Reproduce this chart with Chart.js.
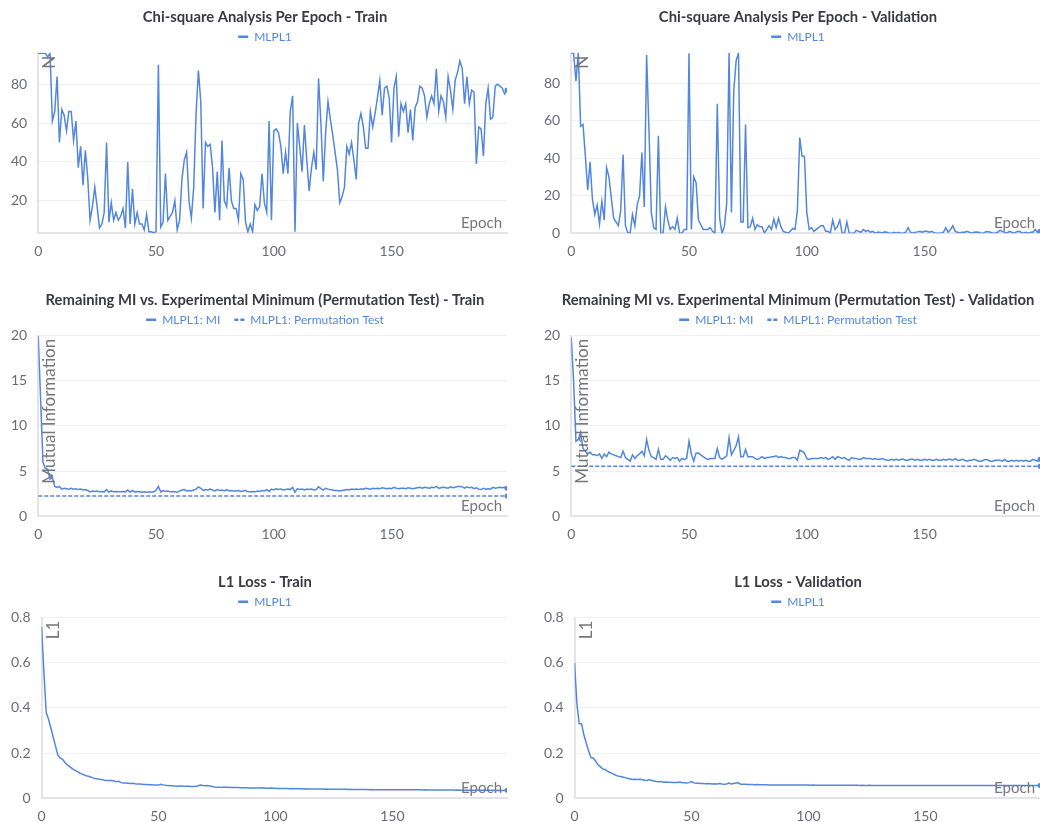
<!DOCTYPE html>
<html>
<head>
<meta charset="utf-8">
<script src="https://cdn.jsdelivr.net/npm/chart.js@4.4.0/dist/chart.umd.min.js"></script>
<style>
  html, body { margin: 0; padding: 0; background: #fff; width: 1040px; height: 822px; overflow: hidden; }
  .cell { position: absolute; width: 530px; height: 272px; }
  .cell canvas { display: block; }
</style>
</head>
<body>
<div class="cell" style="left:0;top:0"><canvas id="chiTrainChart" width="530" height="272"></canvas></div>
<div class="cell" style="left:533px;top:0"><canvas id="chiValChart" width="530" height="272"></canvas></div>
<div class="cell" style="left:0;top:283px"><canvas id="miTrainChart" width="530" height="272"></canvas></div>
<div class="cell" style="left:533px;top:283px"><canvas id="miValChart" width="530" height="272"></canvas></div>
<div class="cell" style="left:0;top:565px"><canvas id="l1TrainChart" width="530" height="272"></canvas></div>
<div class="cell" style="left:533px;top:565px"><canvas id="l1ValChart" width="530" height="272"></canvas></div>
<script>
const epochs = Array.from({ length: 200 }, (_, i) => i);
const epochTicks = [0, 50, 100, 150];

const chiTrain = [
  96, 96, 96, 96, 94, 96, 61, 66, 84, 50,
  67, 64, 56, 66, 66, 51, 61, 37, 48, 28,
  46, 32, 10, 17, 27, 17, 6, 8, 14, 50,
  9, 19, 10, 14, 10, 12, 16, 6, 40, 8,
  26, 8, 14, 8, 8, 5, 13, 4, 4, 3.5,
  4, 90, 6.5, 9, 34, 10, 12, 14, 20, 5,
  10, 31, 41, 45, 20, 11, 27, 65, 87, 71,
  16, 50, 48, 49, 37, 14, 35, 10, 51, 20,
  17, 37, 20, 16, 16, 10, 34, 31, 9, 4,
  8, 4, 18, 15, 17, 34, 19, 14, 61, 10,
  56, 57, 55, 48, 34, 45, 34, 66, 74, 4,
  60, 48, 35, 59, 41, 25, 37, 45, 36, 83,
  60, 30, 55, 71, 62, 54, 45, 36, 19, 22,
  27, 48, 44, 50, 41, 31, 60, 65, 58, 47,
  47, 66, 58, 65, 73, 82, 64, 78, 79, 73,
  50, 78, 84, 53, 70, 66, 70, 55, 67, 51,
  68, 71, 79, 78, 74, 63, 70, 74, 70, 88,
  66, 74, 71, 63, 84, 77, 67, 82, 86, 92,
  88, 70, 84, 70, 77, 76, 39, 58, 57, 43,
  70, 78, 62, 63, 79, 80, 79, 78, 75, 77
];

const chiVal = [
  96, 96, 81, 96, 57, 58, 41, 23, 38, 18,
  10, 15, 5, 17, 7, 35, 30, 19, 8, 6,
  4, 12, 42, 4, 0.3, 0, 10, 4, 15, 20,
  43, 14, 95, 55, 11, 3, 2, 52, 0, 0,
  14, 7, 2, 3.5, 2, 8, 0, 0, 2, 2,
  96, 2, 30, 27, 7, 4.5, 2, 2, 2, 3,
  1, 0, 69, 8, 0, 3.5, 16, 96, 11, 76,
  92, 96, 6, 6, 58, 3, 3.5, 8, 2, 4.5,
  3.5, 3.5, 0, 2, 4, 2, 7.5, 3, 8, 3.5,
  1, 0.5, 0, 1, 2.5, 2, 12, 51, 41, 41,
  11, 2, 3, 1, 2, 3, 4, 4, 1, 1,
  0, 7, 2, 3.5, 7, 0, 0, 6, 0, 0,
  0, 1.5, 1, 0.5, 2, 1, 1.5, 0.5, 1, 0,
  0.5, 0.5, 0, 0.7, 0.5, 0, 0, 0.5, 0, 0.5,
  0, 0, 0.5, 3, 0.5, 0, 0.5, 0.7, 1, 0.5,
  1, 1, 0.5, 1, 0.3, 0, 0, 0, 0.5, 3,
  0.5, 2, 4, 1, 0.5, 0.3, 0.5, 0.5, 1, 0.5,
  0, 0.5, 0.7, 0.5, 0, 0, 0.8, 0.8, 0.5, 0,
  0, 0.5, 1.5, 1, 0.5, 0, 1, 0.5, 0, 0.7,
  1, 0.5, 0, 0.5, 0, 0.5, 0.5, 2, 0.5, 1
];

const miTrain = [
  20, 13, 6, 5.3, 5.2, 4.1, 4.3, 3.3, 3.2, 3.3,
  3.0, 3.1, 3.05, 3.0, 3.1, 3.0, 3.05, 2.95, 3.0, 2.9,
  2.95, 2.85, 2.7, 2.8, 2.75, 2.8, 2.7, 2.75, 2.7, 2.95,
  2.65, 2.8, 2.7, 2.75, 2.7, 2.7, 2.75, 2.7, 2.9, 2.65,
  2.85, 2.7, 2.75, 2.7, 2.65, 2.7, 2.65, 2.7, 2.65, 2.7,
  2.85, 3.3, 2.7, 2.85, 2.75, 2.8, 2.7, 2.75, 2.7, 2.65,
  2.8, 2.9, 2.95, 2.8, 2.85, 2.8, 2.9, 3.0, 3.25, 3.1,
  2.85, 2.95, 2.9, 3.0, 2.9, 2.8, 2.95, 2.85, 2.9, 2.8,
  2.95, 2.8, 2.85, 2.8, 2.8, 2.85, 2.75, 2.8, 2.85, 2.7,
  2.7, 2.75, 2.7, 2.8, 2.75, 2.85, 2.8, 2.95, 2.75, 3.0,
  2.9, 3.05, 2.95, 3.0, 2.9, 2.95, 3.0, 2.95, 3.2, 2.65,
  3.05, 2.95, 3.0, 2.9, 3.0, 2.95, 3.0, 2.9, 2.95, 3.25,
  3.05, 2.9, 3.1, 3.0, 2.95, 2.9, 2.85, 2.85, 2.8, 2.85,
  2.9, 2.95, 2.9, 3.0, 2.95, 3.0, 2.95, 3.05, 3.0, 3.1,
  3.05, 3.0, 3.1, 3.05, 3.1, 3.05, 3.15, 3.1, 3.05, 3.1,
  3.05, 3.2, 3.1, 3.05, 3.1, 3.1, 3.05, 3.15, 3.1, 3.05,
  3.1, 3.15, 3.2, 3.1, 3.2, 3.15, 3.1, 3.2, 3.15, 3.3,
  3.1, 3.15, 3.2, 3.15, 3.1, 3.25, 3.15, 3.2, 3.3, 3.3,
  3.25, 3.1, 3.25, 3.15, 3.2, 3.05, 3.15, 3.0, 2.95, 3.1,
  3.0, 3.05, 3.0, 3.2, 3.1, 3.15, 3.2, 3.15, 3.2, 3.1
];

const miVal = [
  19.8, 15, 8.3, 8.5, 9.3, 7.5, 7.2, 6.9, 7.1, 6.8,
  6.8, 6.7, 6.9, 6.4, 6.9, 6.6, 7.1, 6.9, 6.8, 6.7,
  6.6, 6.5, 7.2, 6.5, 6.3, 6.1, 6.8, 6.4, 6.7, 6.9,
  7.2, 6.7, 8.5, 7.3, 6.6, 6.5, 6.3, 7.4, 6.3, 6.3,
  6.7, 6.5, 6.2, 6.5, 6.4, 6.5, 6.1, 6.4, 6.3, 6.4,
  8.3, 6.9, 6.1, 7.0, 7.0, 6.8, 6.6, 6.4, 6.3, 6.4,
  6.4, 6.4, 7.5, 6.5, 6.3, 6.5, 6.7, 8.7, 6.8, 7.3,
  7.8, 8.8, 6.6, 6.6, 7.4, 6.6, 6.6, 6.6, 6.4, 6.3,
  6.4, 6.6, 6.4, 6.5, 6.5, 6.6, 6.6, 6.7, 6.5, 6.6,
  6.5, 6.5, 6.4, 6.4, 6.5, 6.5, 6.2, 7.3, 7.2, 7.0,
  6.4, 6.3, 6.4, 6.4, 6.4, 6.4, 6.5, 6.4, 6.5, 6.3,
  6.4, 6.6, 6.3, 6.6, 6.5, 6.4, 6.5, 6.3, 6.2, 6.5,
  6.4, 6.4, 6.3, 6.3, 6.5, 6.4, 6.4, 6.4, 6.3, 6.4,
  6.3, 6.3, 6.4, 6.3, 6.2, 6.2, 6.3, 6.2, 6.3, 6.2,
  6.3, 6.3, 6.2, 6.2, 6.3, 6.3, 6.2, 6.3, 6.2, 6.2,
  6.3, 6.2, 6.3, 6.2, 6.2, 6.3, 6.2, 6.2, 6.3, 6.2,
  6.3, 6.3, 6.2, 6.4, 6.2, 6.2, 6.3, 6.2, 6.1, 6.2,
  6.2, 6.3, 6.2, 6.1, 6.1, 6.2, 6.3, 6.2, 6.1, 6.1,
  6.2, 6.2, 6.2, 6.1, 6.3, 6.1, 6.1, 6.2, 6.1, 6.2,
  6.1, 6.2, 6.1, 6.2, 6.1, 6.1, 6.3, 6.2, 6.1, 6.3
];

// permutation test baselines are flat, so only the two ends are stored
const permEpochs = [0, 199];
const permTrain = [2.25, 2.25];
const permVal = [5.55, 5.55];

const l1Train = [
  0.76, 0.56, 0.38, 0.35, 0.31, 0.27, 0.23, 0.19, 0.178, 0.172,
  0.158, 0.148, 0.14, 0.132, 0.126, 0.12, 0.114, 0.108, 0.104, 0.1,
  0.097, 0.094, 0.09, 0.087, 0.085, 0.084, 0.082, 0.08, 0.079, 0.079,
  0.078, 0.076, 0.073, 0.075, 0.069, 0.067, 0.067, 0.066, 0.065, 0.066,
  0.064, 0.063, 0.063, 0.062, 0.061, 0.061, 0.06, 0.06, 0.059, 0.058,
  0.058, 0.062, 0.059, 0.057, 0.056, 0.055, 0.055, 0.054, 0.053, 0.054,
  0.054, 0.053, 0.053, 0.053, 0.052, 0.052, 0.053, 0.055, 0.058, 0.056,
  0.055, 0.056, 0.054, 0.052, 0.05, 0.049, 0.049, 0.048, 0.048, 0.048,
  0.048, 0.047, 0.047, 0.047, 0.047, 0.046, 0.046, 0.046, 0.046, 0.045,
  0.045, 0.045, 0.045, 0.045, 0.046, 0.045, 0.044, 0.044, 0.045, 0.044,
  0.044, 0.043, 0.043, 0.043, 0.043, 0.043, 0.042, 0.043, 0.042, 0.042,
  0.042, 0.042, 0.041, 0.042, 0.041, 0.041, 0.041, 0.041, 0.041, 0.041,
  0.041, 0.04, 0.041, 0.04, 0.04, 0.04, 0.04, 0.04, 0.04, 0.04,
  0.04, 0.039, 0.04, 0.039, 0.039, 0.039, 0.039, 0.039, 0.039, 0.039,
  0.038, 0.039, 0.038, 0.038, 0.038, 0.038, 0.038, 0.038, 0.038, 0.038,
  0.038, 0.037, 0.038, 0.037, 0.037, 0.037, 0.037, 0.037, 0.037, 0.037,
  0.037, 0.037, 0.037, 0.036, 0.037, 0.036, 0.036, 0.036, 0.036, 0.036,
  0.036, 0.036, 0.036, 0.036, 0.036, 0.036, 0.036, 0.035, 0.036, 0.035,
  0.035, 0.035, 0.035, 0.035, 0.035, 0.035, 0.035, 0.035, 0.035, 0.035,
  0.035, 0.035, 0.035, 0.035, 0.034, 0.035, 0.034, 0.034, 0.034, 0.035
];

const l1Val = [
  0.6, 0.42, 0.33, 0.33, 0.28, 0.245, 0.21, 0.18, 0.178, 0.165,
  0.148, 0.14, 0.13, 0.127, 0.12, 0.115, 0.11, 0.105, 0.1, 0.097,
  0.095, 0.093, 0.09, 0.087, 0.085, 0.083, 0.084, 0.083, 0.084, 0.082,
  0.08, 0.079, 0.083, 0.078, 0.076, 0.074, 0.073, 0.074, 0.071, 0.072,
  0.071, 0.071, 0.07, 0.07, 0.07, 0.072, 0.069, 0.068, 0.067, 0.069,
  0.074, 0.068, 0.066, 0.066, 0.065, 0.065, 0.064, 0.065, 0.064, 0.063,
  0.064, 0.063, 0.065, 0.063, 0.062, 0.063, 0.067, 0.063, 0.065, 0.067,
  0.068, 0.062, 0.062, 0.062, 0.061, 0.061, 0.061, 0.06, 0.061, 0.06,
  0.06, 0.06, 0.06, 0.059, 0.059, 0.059, 0.059, 0.059, 0.059, 0.058,
  0.058, 0.058, 0.058, 0.058, 0.058, 0.058, 0.058, 0.058, 0.058, 0.058,
  0.058, 0.057, 0.058, 0.057, 0.057, 0.057, 0.057, 0.057, 0.057, 0.057,
  0.057, 0.057, 0.057, 0.057, 0.057, 0.057, 0.057, 0.057, 0.057, 0.057,
  0.057, 0.057, 0.056, 0.057, 0.056, 0.056, 0.057, 0.056, 0.056, 0.056,
  0.056, 0.056, 0.056, 0.056, 0.056, 0.056, 0.056, 0.056, 0.056, 0.056,
  0.056, 0.056, 0.056, 0.056, 0.056, 0.056, 0.056, 0.056, 0.056, 0.056,
  0.056, 0.056, 0.056, 0.056, 0.056, 0.056, 0.056, 0.056, 0.056, 0.056,
  0.056, 0.056, 0.056, 0.056, 0.056, 0.056, 0.056, 0.056, 0.056, 0.056,
  0.056, 0.056, 0.056, 0.056, 0.056, 0.056, 0.056, 0.056, 0.056, 0.056,
  0.056, 0.056, 0.056, 0.056, 0.056, 0.056, 0.056, 0.056, 0.056, 0.056,
  0.056, 0.056, 0.056, 0.056, 0.056, 0.056, 0.056, 0.056, 0.056, 0.056
];

const BLUE = '#5387dd';
const FONT = "Lato, 'Source Sans Pro', sans-serif";
const TICK_GREY = '#6b6b76';

// axis names sit inside the plot: y name rotated at top-left, x name bottom-right
const insideAxisTitles = {
  id: 'insideAxisTitles',
  afterDatasetsDraw(chart, args, opts) {
    const { ctx, chartArea: a } = chart;
    ctx.save();
    ctx.fillStyle = '#76767f';
    ctx.textAlign = 'right';
    ctx.font = '15px ' + FONT;
    ctx.textBaseline = 'alphabetic';
    ctx.fillText(opts.x, a.right - 5, a.bottom - 5);
    ctx.font = '17px ' + FONT;
    ctx.translate(a.left + 3, a.top + 3);
    ctx.rotate(-Math.PI / 2);
    ctx.textBaseline = 'top';
    ctx.fillText(opts.y, 0, 0);
    ctx.restore();
  }
};

function series(label, xs, ys, dashed) {
  const last = ys.length - 1;
  return {
    label,
    data: ys.map((y, i) => ({ x: xs[i], y })),
    borderColor: BLUE,
    backgroundColor: BLUE,
    borderWidth: 1.5,
    borderDash: dashed ? [4, 2] : [],
    pointRadius: ctx => (ctx.dataIndex === last ? 2.5 : 0),
    pointBorderWidth: 0,
    tension: 0,
    fill: false
  };
}

function yRange(min, max, step) {
  return {
    min, max,
    grid: { color: '#f0f0f3', drawTicks: false },
    border: { display: true, color: '#e3e3e8', width: 2 },
    ticks: {
      stepSize: step,
      padding: 11,
      color: TICK_GREY,
      font: { family: FONT, size: 14 },
      includeBounds: false
    }
  };
}

function makeChart(id, title, datasets, yScale, yName) {
  new Chart(document.getElementById(id), {
    type: 'line',
    data: { datasets },
    plugins: [insideAxisTitles],
    options: {
      responsive: false,
      animation: false,
      layout: { padding: { left: 0, right: 0, top: 0, bottom: 2 } },
      plugins: {
        title: {
          display: true,
          text: title,
          color: '#3a3a44',
          font: { family: FONT, size: 14.8, weight: 'bold' },
          padding: { top: 8, bottom: 0 }
        },
        legend: {
          labels: {
            color: BLUE,
            font: { family: FONT, size: 12 },
            usePointStyle: true,
            pointStyleWidth: 10,
            boxHeight: 12,
            padding: 5,
            generateLabels(chart) {
              const n = chart.data.datasets.length;
              return chart.data.datasets.map((ds, i) => ({
                // em space keeps a wider gap between neighbouring items
                text: i < n - 1 ? ds.label + '\u2003' : ds.label,
                datasetIndex: i,
                strokeStyle: BLUE,
                fillStyle: BLUE,
                fontColor: BLUE,
                lineWidth: 2.5,
                lineDash: ds.borderDash.length ? [4, 2] : [],
                pointStyle: 'line',
                hidden: false
              }));
            }
          }
        },
        tooltip: { enabled: false },
        insideAxisTitles: { x: 'Epoch', y: yName }
      },
      scales: {
        x: {
          type: 'linear',
          min: 0,
          max: 199,
          grid: { display: false, drawTicks: false },
          border: { display: true, color: '#e3e3e8', width: 2 },
          afterBuildTicks: scale => { scale.ticks = epochTicks.map(v => ({ value: v })); },
          ticks: {
            autoSkip: false,
            padding: 10,
            color: TICK_GREY,
            font: { family: FONT, size: 14 },
            maxRotation: 0
          }
        },
        y: yScale,
        // empty strip on the right so the plot stops short of the canvas edge
        gutter: {
          type: 'linear',
          position: 'right',
          grid: { display: false },
          border: { display: false },
          ticks: { display: false },
          afterFit: scale => { scale.width = 23; }
        }
      }
    }
  });
}

makeChart('chiTrainChart', 'Chi-square Analysis Per Epoch - Train',
  [series('MLPL1', epochs, chiTrain)], yRange(3.3, 96.2, 20), 'N');
makeChart('chiValChart', 'Chi-square Analysis Per Epoch - Validation',
  [series('MLPL1', epochs, chiVal)], yRange(0, 96.2, 20), 'N');
makeChart('miTrainChart', 'Remaining MI vs. Experimental Minimum (Permutation Test) - Train',
  [series('MLPL1: MI', epochs, miTrain), series('MLPL1: Permutation Test', permEpochs, permTrain, true)],
  yRange(0, 20, 5), 'Mutual Information');
makeChart('miValChart', 'Remaining MI vs. Experimental Minimum (Permutation Test) - Validation',
  [series('MLPL1: MI', epochs, miVal), series('MLPL1: Permutation Test', permEpochs, permVal, true)],
  yRange(0, 20, 5), 'Mutual Information');
makeChart('l1TrainChart', 'L1 Loss - Train',
  [series('MLPL1', epochs, l1Train)], yRange(0, 0.8, 0.2), 'L1');
makeChart('l1ValChart', 'L1 Loss - Validation',
  [series('MLPL1', epochs, l1Val)], yRange(0, 0.8, 0.2), 'L1');
</script>
</body>
</html>
